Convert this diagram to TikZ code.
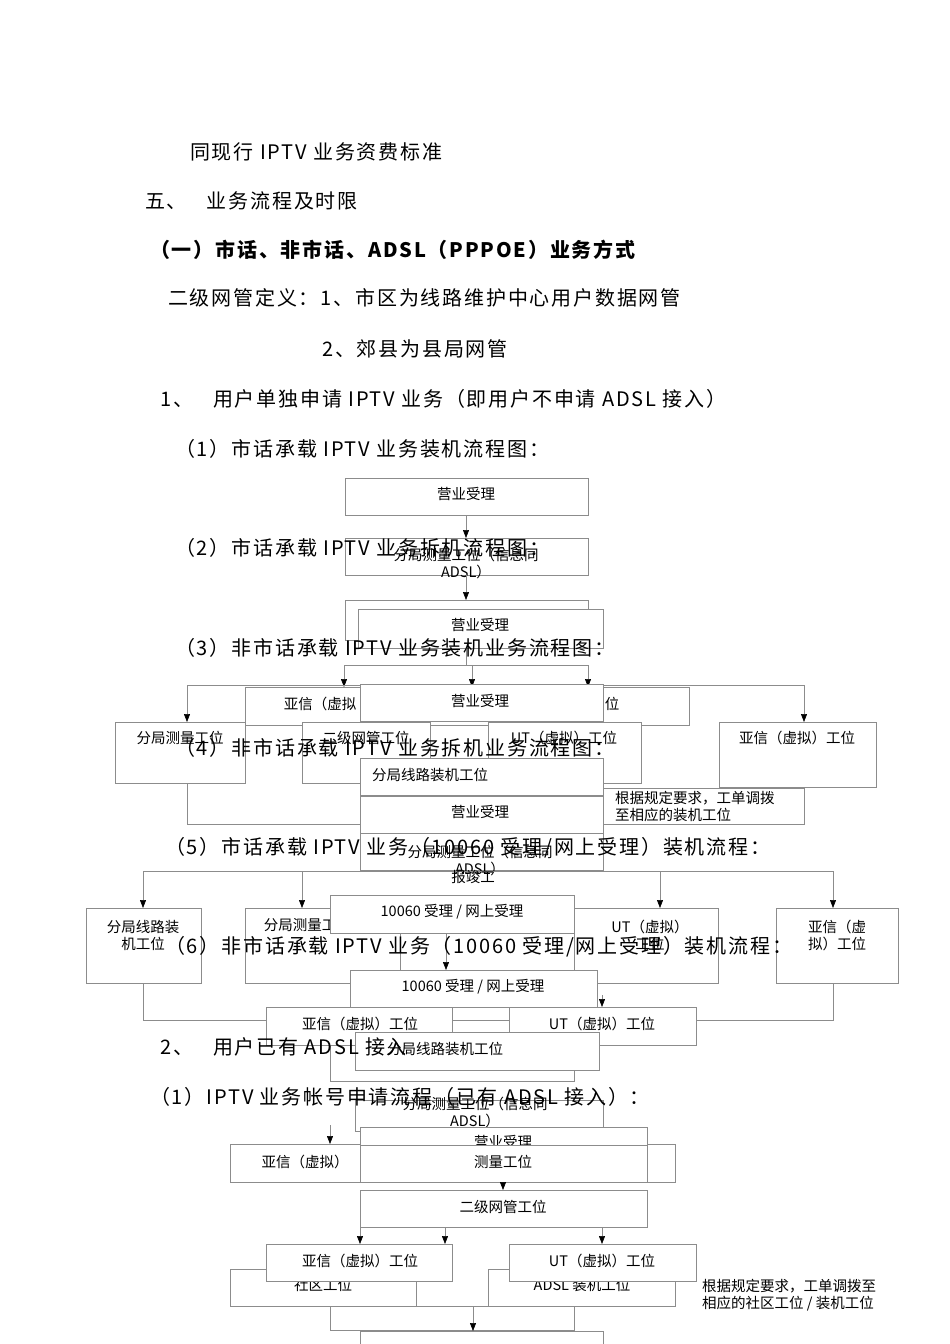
\documentclass[tikz,border=0pt]{standalone}
\usepackage{fontspec}
\setmainfont{Liberation Serif}
\newfontfamily\cjk{Noto Sans CJK SC}
\newfontfamily\cjkh[LetterSpace=9]{Noto Sans CJK SC}
\usetikzlibrary{arrows.meta}
\tikzset{
 bxs/.style={draw=black!45,fill=white,line width=0.6pt,inner sep=0pt},
 lbl/.style={font=\cjk\fontsize{14.5}{17}\selectfont,inner sep=0pt,align=center},
 hd/.style={font=\cjkh\fontsize{20}{22}\selectfont,inner sep=0pt,anchor=west},
 ln/.style={draw=black!45,line width=0.6pt},
 ar/.style={draw=black!45,line width=0.6pt,-{Triangle[black,length=8pt,width=6pt]}}
}
\newcommand\bx[5]{\node[bxs,anchor=north west,minimum width={(#4-#2)*1pt},minimum height={(#5-#3)*1pt}] (#1) at (#2,#3) {};}
\newcommand\tx[4]{\node[lbl] (#1) at (#2,#3) {#4};}
\begin{document}
\begin{tikzpicture}[x=1pt,y=-1pt]
\useasboundingbox[fill=white] (0,0) rectangle (950,1344);
% chart 1
\bx{a1}{345}{478}{588}{515}\tx{ta1}{466}{494}{营业受理}
\draw[ar] (466,515) -- (466,538);
\bx{a2}{345}{538}{588}{575}\tx{ta2}{466}{563}{分局测量工位（信息同\\ADSL）}
\draw[ar] (466,575) -- (466,600);
\bx{a3}{345}{600}{588}{640}
\bx{a4}{358}{609}{603}{648}\tx{ta4}{480}{625}{营业受理}
\draw[ln] (466,648) -- (466,665);
\draw[ln] (344,665) -- (588,665);
\draw[ar] (344,665) -- (344,687);
\draw[ar] (472,665) -- (472,687);
\draw[ar] (588,665) -- (588,687);
\draw[ln] (187,685) -- (804,685);
\draw[ar] (187,685) -- (187,722);
\draw[ar] (804,685) -- (804,722);
\bx{b1}{245}{687}{689}{725}\tx{tb1}{320}{704}{亚信（虚拟}\tx{tb1b}{612}{704}{位}
\bx{b2}{360}{684}{603}{721}\tx{tb2}{480}{701}{营业受理}
\bx{b3}{115}{722}{245}{783}\tx{tb3}{180}{738}{分局测量工位}
\bx{b4}{302}{722}{430}{783}\tx{tb4}{366}{738}{二级网管工位}
\bx{b5}{488}{722}{641}{783}\tx{tb5}{564}{738}{UT（虚拟）工位}
\bx{b6}{719}{722}{876}{787}\tx{tb6}{797}{738}{亚信（虚拟）工位}
\draw[ln] (187,783) -- (187,824) -- (804,824) -- (804,787);
\bx{b7}{603}{788}{804}{824}
\node[lbl,align=left,anchor=west] (tb7) at (615,806) {根据规定要求，工单调拨\\至相应的装机工位};
\bx{b8}{360}{758}{603}{795}\node[lbl,anchor=west] (tb8) at (372,775) {分局线路装机工位};
\bx{b9}{360}{796}{603}{833}\tx{tb9}{480}{812}{营业受理}
\bx{b10}{360}{833}{603}{870}\tx{tb10}{480}{860}{分局测量工位（信息同\\ADSL）}
% chart 2
\draw[ln] (143,871) -- (833,871);
\draw[ar] (143,871) -- (143,908);
\draw[ar] (302,871) -- (302,908);
\draw[ar] (660,871) -- (660,908);
\draw[ar] (833,871) -- (833,908);
\tx{tbj}{473}{877}{报竣工}
\bx{c1}{86}{908}{201}{983}\tx{tc1}{143}{935}{分局线路装\\机工位}
\bx{c2}{245}{908}{400}{983}\tx{tc2}{300}{925}{分局测量工}
\bx{c3}{574}{908}{718}{983}\tx{tc3}{650}{935}{UT（虚拟）\\工位}
\bx{c4}{776}{908}{898}{983}\tx{tc4}{837}{935}{亚信（虚\\拟）工位}
\draw[ln] (143,983) -- (143,1020) -- (833,1020) -- (833,983);
\bx{c5}{330}{895}{574}{933}\tx{tc5}{452}{912}{10060 受理 / 网上受理}
\draw[ar] (446,933) -- (446,970);
\bx{c6}{350}{970}{597}{1007}\tx{tc6}{473}{987}{10060 受理 / 网上受理}
\draw[ar] (602,995) -- (602,1007);
\bx{c7}{266}{1007}{452}{1045}\tx{tc7}{360}{1024}{亚信（虚拟）工位}
\bx{c8}{509}{1007}{696}{1045}\tx{tc8}{602}{1024}{UT（虚拟）工位}
\bx{c9}{330}{1045}{574}{1081}
\bx{c10}{355}{1032}{599}{1070}\tx{tc10}{445}{1049}{分局线路装机工位}
% chart 3
\bx{d1}{355}{1100}{603}{1131}\tx{td1}{475}{1112}{分局测量工位（信息同\\ADSL）}
\draw[ar] (330,1125) -- (330,1144);
\bx{d2}{230}{1144}{675}{1182}\tx{td2}{305}{1162}{亚信（虚拟）}
\bx{d3}{360}{1127}{647}{1145}\tx{td3}{503}{1142}{营业受理}
\bx{d4}{360}{1145}{647}{1182}\tx{td4}{503}{1162}{测量工位}
\draw[ar] (503,1182) -- (503,1190);
\bx{d5}{360}{1190}{647}{1227}\tx{td5}{503}{1207}{二级网管工位}
\draw[ar] (360,1227) -- (360,1244);
\draw[ar] (445,1227) -- (445,1244);
\draw[ar] (602,1227) -- (602,1244);
\bx{d6}{230}{1269}{416}{1306}\tx{td6}{323}{1285}{社区工位}
\bx{d7}{488}{1269}{675}{1306}\tx{td7}{582}{1285}{ADSL 装机工位}
\bx{d8}{266}{1244}{452}{1281}\tx{td8}{360}{1261}{亚信（虚拟）工位}
\bx{d9}{509}{1244}{696}{1281}\tx{td9}{602}{1261}{UT（虚拟）工位}
\node[lbl,align=left,anchor=west] (td10) at (702,1295) {根据规定要求，工单调拨至\\相应的社区工位 / 装机工位};
\bx{d11}{330}{1306}{574}{1330}
\draw[ar] (473,1306) -- (473,1331);
\bx{d12}{360}{1331}{603}{1350}
% headings
\node[hd] (h1) at (190,152) {同现行 IPTV 业务资费标准};
\node[hd] (h2) at (145,201) {五、\quad 业务流程及时限};
\node[hd,font=\cjkh\bfseries\fontsize{20}{22}\selectfont] (h3) at (150,250) {（一）市话、非市话、ADSL（PPPOE）业务方式};
\node[hd] (h4) at (168,298) {二级网管定义：1、市区为线路维护中心用户数据网管};
\node[hd] (h5) at (322,349) {2、郊县为县局网管};
\node[hd] (h6) at (160,399) {1、\quad 用户单独申请 IPTV 业务（即用户不申请 ADSL 接入）};
\node[hd] (h7) at (175,449) {（1）市话承载 IPTV 业务装机流程图：};
\node[hd] (h8) at (175,548) {（2）市话承载 IPTV 业务拆机流程图：};
\node[hd] (h9) at (175,648) {（3）非市话承载 IPTV 业务装机业务流程图：};
\node[hd] (h10) at (175,748) {（4）非市话承载 IPTV 业务拆机业务流程图：};
\node[hd] (h11) at (165,848) {（5）市话承载 IPTV 业务（10060 受理/网上受理）装机流程：};
\node[hd] (h12) at (165,947) {（6）非市话承载 IPTV 业务（10060 受理/网上受理）装机流程：};
\node[hd] (h13) at (160,1047) {2、\quad 用户已有 ADSL 接入};
\node[hd] (h14) at (150,1097) {（1）IPTV 业务帐号申请流程（已有 ADSL 接入）：};
\end{tikzpicture}
\end{document}
